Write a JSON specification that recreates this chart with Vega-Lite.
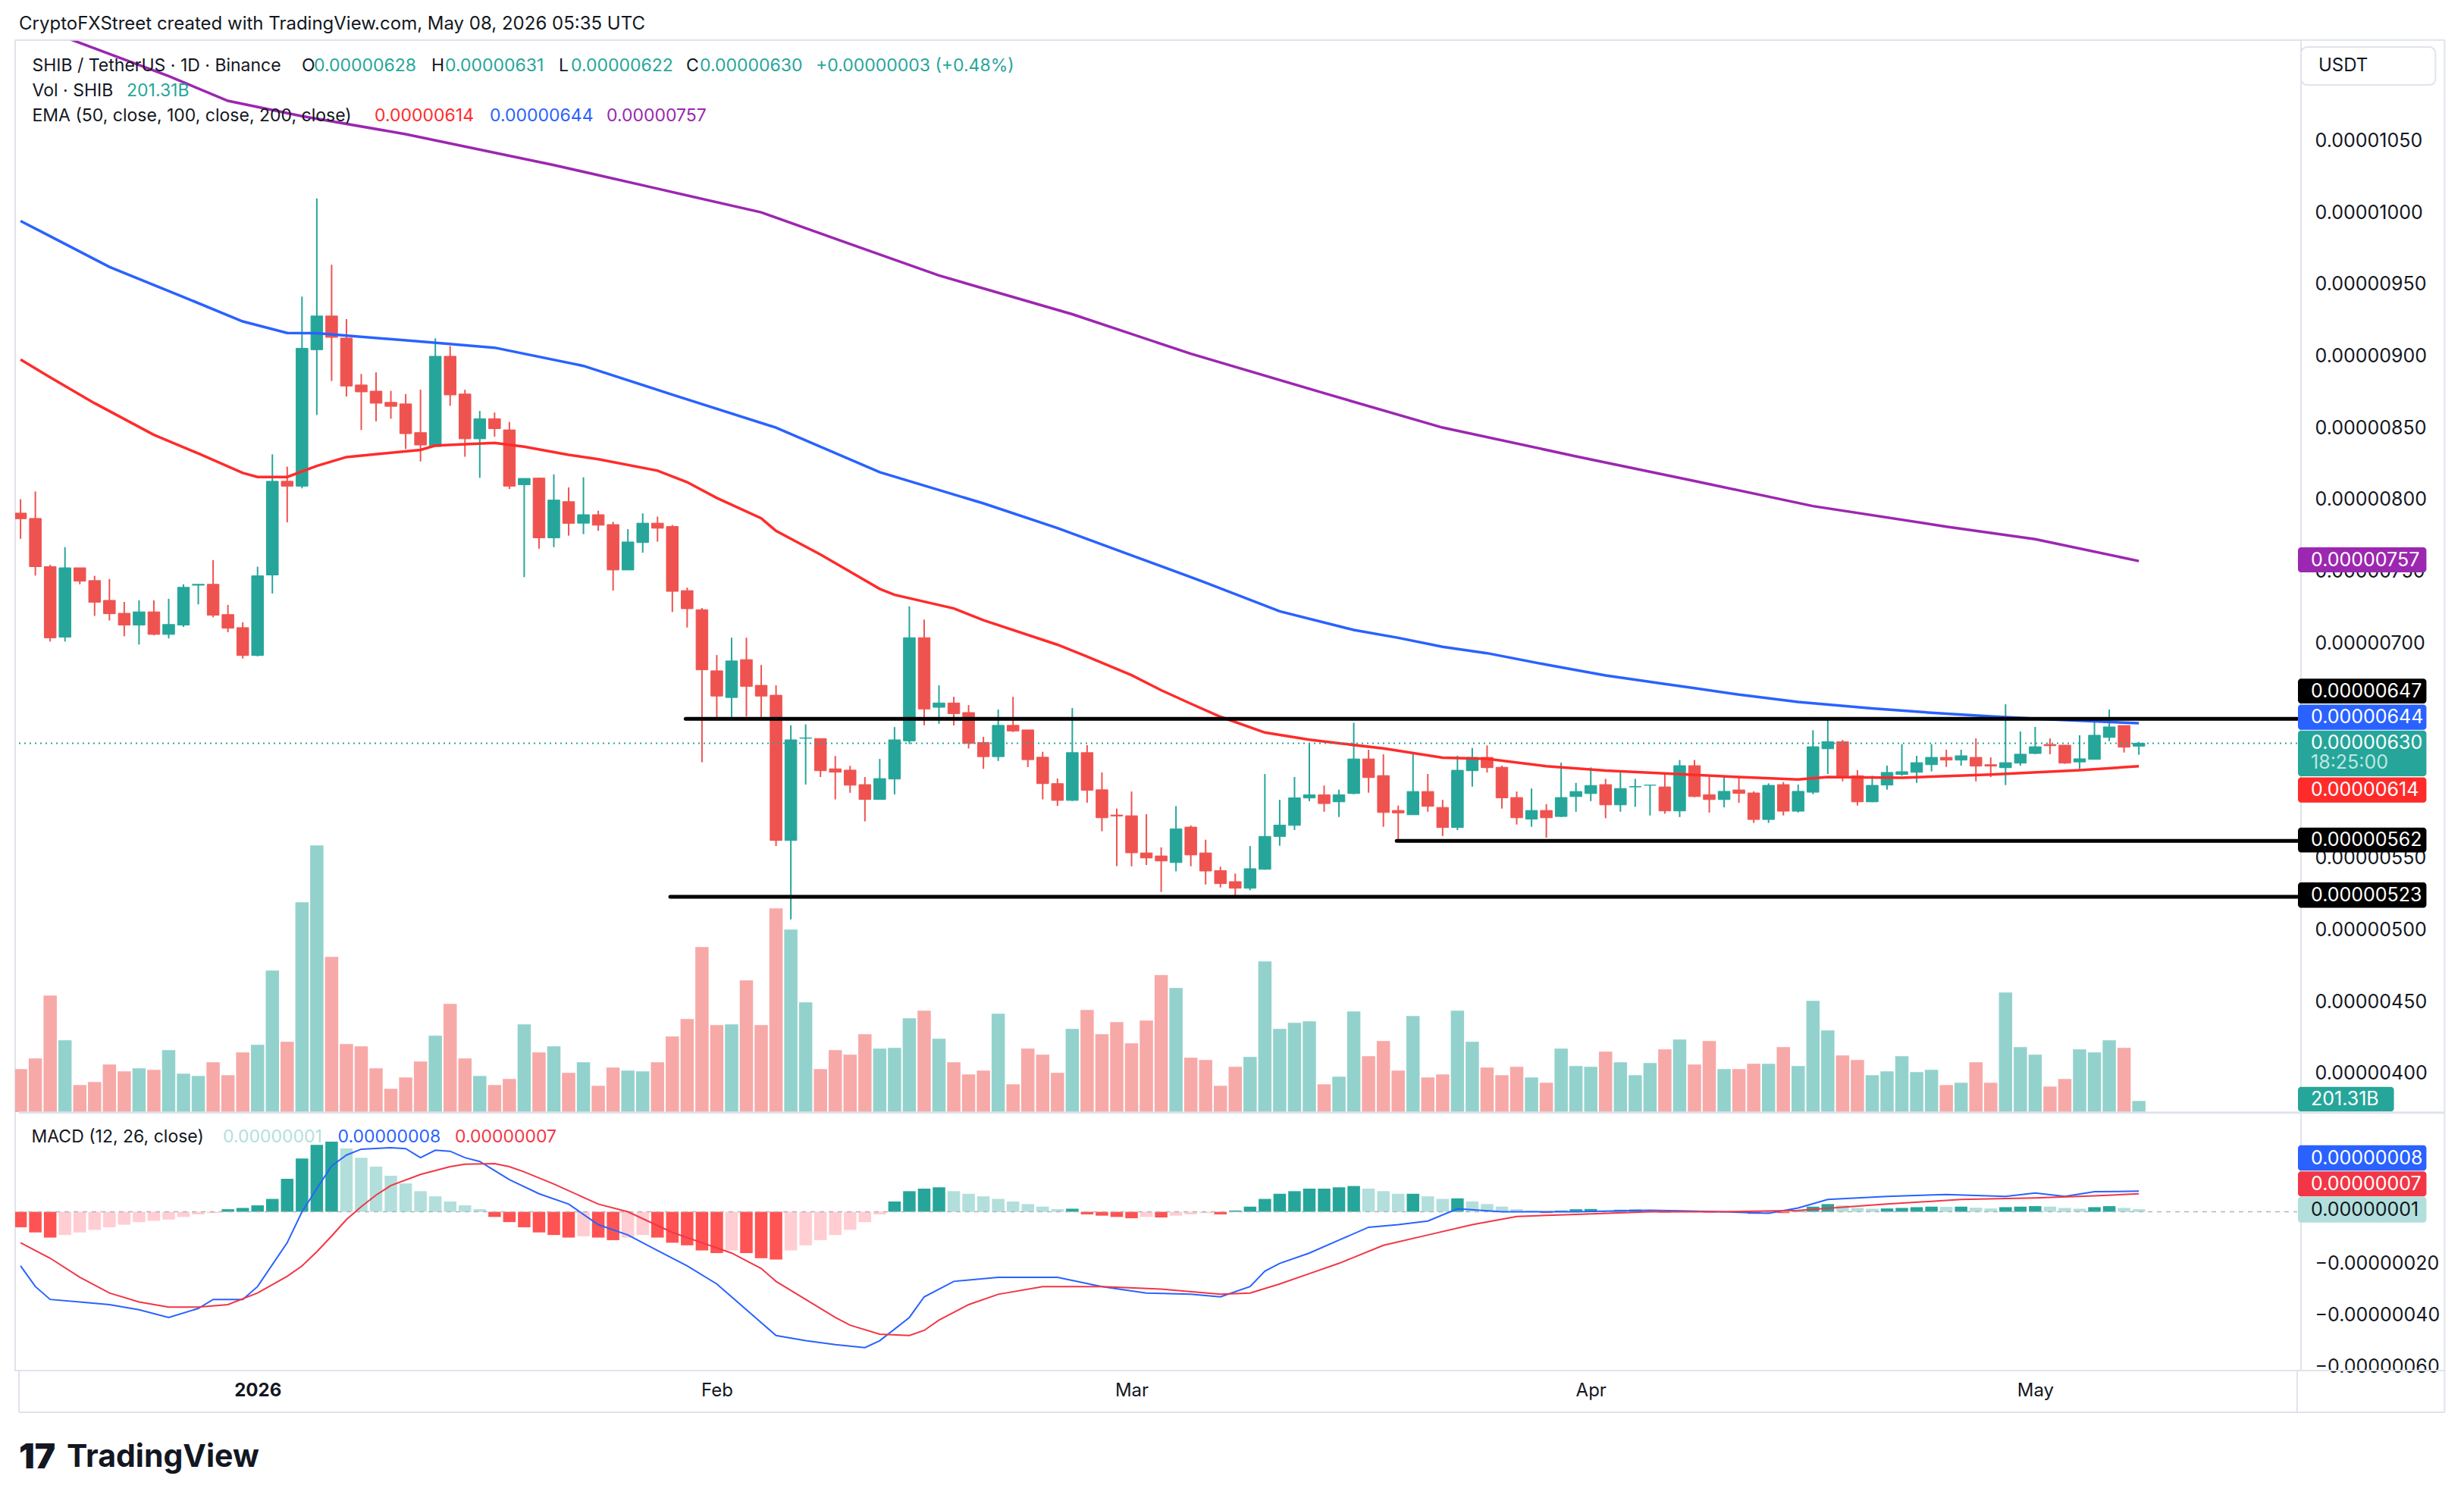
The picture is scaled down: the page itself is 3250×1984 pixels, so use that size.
{
"$schema":"https://vega.github.io/schema/vega-lite/v6.json",
"width":3015,"height":1755,
"autosize":{"type":"none"},
"padding":{"left":20,"top":53,"right":215,"bottom":176},
"background":"#ffffff",
"config":{"font":"Inter","view":{"stroke":"#e0e3eb","strokeWidth":2}},
"datasets":{
"one":[{"k":1}],
"ohlc":[
{"t":"2025-12-16","o":790.4e-8,"h":800.1e-8,"l":772.5e-8,"c":786.5e-8,"v":777.6,"m":-6e-8},
{"t":"2025-12-17","o":786.7e-8,"h":805.5e-8,"l":746.9e-8,"c":753.1e-8,"v":969.7,"m":-8e-8},
{"t":"2025-12-18","o":753.1e-8,"h":754.4e-8,"l":700.9e-8,"c":703.5e-8,"v":2108.6,"m":-10e-8},
{"t":"2025-12-19","o":704e-8,"h":766.7e-8,"l":700.9e-8,"c":752.3e-8,"v":1299,"m":-9e-8},
{"t":"2025-12-20","o":752.3e-8,"h":752.3e-8,"l":740.8e-8,"c":743e-8,"v":489.4,"m":-8e-8},
{"t":"2025-12-21","o":743.4e-8,"h":746.7e-8,"l":718.8e-8,"c":728.3e-8,"v":544.3,"m":-7e-8},
{"t":"2025-12-22","o":729.6e-8,"h":744.5e-8,"l":715.6e-8,"c":720.3e-8,"v":859.9,"m":-6e-8},
{"t":"2025-12-23","o":720.6e-8,"h":728.5e-8,"l":704.6e-8,"c":712.4e-8,"v":736.4,"m":-5e-8},
{"t":"2025-12-24","o":712.4e-8,"h":729.6e-8,"l":698.8e-8,"c":721.6e-8,"v":791.3,"m":-4e-8},
{"t":"2025-12-25","o":721.6e-8,"h":729.6e-8,"l":705.3e-8,"c":705.9e-8,"v":763.9,"m":-3.5e-8},
{"t":"2025-12-26","o":705.9e-8,"h":730.7e-8,"l":703.1e-8,"c":712.8e-8,"v":1120.6,"m":-3e-8},
{"t":"2025-12-27","o":712.4e-8,"h":740.8e-8,"l":711.1e-8,"c":738.7e-8,"v":695.2,"m":-2e-8},
{"t":"2025-12-28","o":740.2e-8,"h":740.8e-8,"l":726.8e-8,"c":740.8e-8,"v":654.1,"m":-1e-8},
{"t":"2025-12-29","o":740.8e-8,"h":757.7e-8,"l":717.8e-8,"c":719.3e-8,"v":901.1,"m":-0.5e-8},
{"t":"2025-12-30","o":719.7e-8,"h":726.4e-8,"l":707.4e-8,"c":710.2e-8,"v":667.8,"m":1e-8},
{"t":"2025-12-31","o":710.6e-8,"h":714.3e-8,"l":689.1e-8,"c":691.2e-8,"v":1079.5,"m":1.5e-8},
{"t":"2026-01-01","o":691.2e-8,"h":753.1e-8,"l":690.6e-8,"c":746.7e-8,"v":1216.7,"m":2.5e-8},
{"t":"2026-01-02","o":747.3e-8,"h":831.4e-8,"l":734.4e-8,"c":812.6e-8,"v":2561.4,"m":5e-8},
{"t":"2026-01-03","o":812.6e-8,"h":822.8e-8,"l":784e-8,"c":809.2e-8,"v":1271.6,"m":12.8e-8},
{"t":"2026-01-04","o":809.2e-8,"h":941.3e-8,"l":807.7e-8,"c":905.3e-8,"v":3796.4,"m":20.7e-8},
{"t":"2026-01-05","o":904.3e-8,"h":1009.7e-8,"l":858.8e-8,"c":927.8e-8,"v":4825.6,"m":26e-8},
{"t":"2026-01-06","o":927.8e-8,"h":963.5e-8,"l":882.5e-8,"c":912.9e-8,"v":2808.4,"m":27.2e-8},
{"t":"2026-01-07","o":912.4e-8,"h":925.6e-8,"l":871.7e-8,"c":879e-8,"v":1230.4,"m":24.6e-8},
{"t":"2026-01-08","o":879.7e-8,"h":887.4e-8,"l":848.4e-8,"c":874.9e-8,"v":1189.2,"m":21e-8},
{"t":"2026-01-09","o":875.4e-8,"h":888.5e-8,"l":854.4e-8,"c":867e-8,"v":791.3,"m":17.5e-8},
{"t":"2026-01-10","o":867.6e-8,"h":875.6e-8,"l":856.2e-8,"c":864.8e-8,"v":420.8,"m":14e-8},
{"t":"2026-01-11","o":866.5e-8,"h":873.4e-8,"l":835.1e-8,"c":845.8e-8,"v":626.6,"m":11e-8},
{"t":"2026-01-12","o":846.5e-8,"h":876.4e-8,"l":826.4e-8,"c":837.9e-8,"v":914.8,"m":8e-8},
{"t":"2026-01-13","o":836.8e-8,"h":912.2e-8,"l":836.8e-8,"c":899.7e-8,"v":1381.3,"m":6e-8},
{"t":"2026-01-14","o":899.7e-8,"h":906.8e-8,"l":865.2e-8,"c":872.8e-8,"v":1957.7,"m":4e-8},
{"t":"2026-01-15","o":873.4e-8,"h":876.4e-8,"l":829.7e-8,"c":842.2e-8,"v":969.7,"m":2.5e-8},
{"t":"2026-01-16","o":842.2e-8,"h":861.6e-8,"l":815e-8,"c":856.2e-8,"v":654.1,"m":1e-8},
{"t":"2026-01-17","o":856.2e-8,"h":860.5e-8,"l":843.7e-8,"c":849.3e-8,"v":489.4,"m":-2e-8},
{"t":"2026-01-18","o":848.4e-8,"h":854e-8,"l":807.2e-8,"c":809.2e-8,"v":599.2,"m":-4e-8},
{"t":"2026-01-19","o":810.2e-8,"h":814.6e-8,"l":745.8e-8,"c":814.6e-8,"v":1587.2,"m":-6e-8},
{"t":"2026-01-20","o":814.8e-8,"h":815.2e-8,"l":765.6e-8,"c":773.2e-8,"v":1079.5,"m":-8e-8},
{"t":"2026-01-21","o":773.2e-8,"h":817.4e-8,"l":766.7e-8,"c":799.5e-8,"v":1189.2,"m":-9e-8},
{"t":"2026-01-22","o":798.4e-8,"h":808.3e-8,"l":774.7e-8,"c":783.3e-8,"v":709,"m":-10e-8},
{"t":"2026-01-23","o":783.4e-8,"h":815.4e-8,"l":775.8e-8,"c":789.3e-8,"v":901.1,"m":-9.5e-8},
{"t":"2026-01-24","o":789.3e-8,"h":792.1e-8,"l":778.1e-8,"c":782e-8,"v":475.7,"m":-10e-8},
{"t":"2026-01-25","o":782.4e-8,"h":784.3e-8,"l":736.4e-8,"c":750.8e-8,"v":805,"m":-11e-8},
{"t":"2026-01-26","o":750.8e-8,"h":779.2e-8,"l":750.8e-8,"c":770.3e-8,"v":750.1,"m":-10e-8},
{"t":"2026-01-27","o":769.9e-8,"h":790.2e-8,"l":762.8e-8,"c":783.4e-8,"v":736.4,"m":-9e-8},
{"t":"2026-01-28","o":783.4e-8,"h":788e-8,"l":770.5e-8,"c":779.9e-8,"v":901.1,"m":-10e-8},
{"t":"2026-01-29","o":781.1e-8,"h":782.2e-8,"l":721.5e-8,"c":735.9e-8,"v":1367.6,"m":-12e-8},
{"t":"2026-01-30","o":736.4e-8,"h":738.5e-8,"l":710.7e-8,"c":723.8e-8,"v":1683.2,"m":-13e-8},
{"t":"2026-01-31","o":723.1e-8,"h":724.3e-8,"l":616.8e-8,"c":681.2e-8,"v":2986.8,"m":-15e-8},
{"t":"2026-02-01","o":680.5e-8,"h":691.5e-8,"l":648.2e-8,"c":662.9e-8,"v":1573.5,"m":-16e-8},
{"t":"2026-02-02","o":661.9e-8,"h":703.6e-8,"l":646.8e-8,"c":687.4e-8,"v":1587.2,"m":-15e-8},
{"t":"2026-02-03","o":688.3e-8,"h":703.6e-8,"l":648.7e-8,"c":669.7e-8,"v":2383.1,"m":-16e-8},
{"t":"2026-02-04","o":670.4e-8,"h":684.6e-8,"l":648.2e-8,"c":662.9e-8,"v":1573.5,"m":-18e-8},
{"t":"2026-02-05","o":663.5e-8,"h":670.4e-8,"l":558.4e-8,"c":562.3e-8,"v":3686.6,"m":-18.5e-8},
{"t":"2026-02-06","o":562.3e-8,"h":642.5e-8,"l":507.3e-8,"c":632.4e-8,"v":3302.4,"m":-15e-8},
{"t":"2026-02-07","o":633.5e-8,"h":643.2e-8,"l":601.3e-8,"c":633.8e-8,"v":1985.1,"m":-13e-8},
{"t":"2026-02-08","o":633.3e-8,"h":633.3e-8,"l":606.5e-8,"c":610.9e-8,"v":777.6,"m":-11e-8},
{"t":"2026-02-09","o":612.2e-8,"h":621.2e-8,"l":590.9e-8,"c":609.9e-8,"v":1120.6,"m":-9e-8},
{"t":"2026-02-10","o":611.3e-8,"h":614.3e-8,"l":595.5e-8,"c":600.8e-8,"v":1038.3,"m":-7e-8},
{"t":"2026-02-11","o":601.2e-8,"h":606.5e-8,"l":575.6e-8,"c":590.9e-8,"v":1408.8,"m":-4e-8},
{"t":"2026-02-12","o":590.9e-8,"h":619.1e-8,"l":590.9e-8,"c":605.4e-8,"v":1148.1,"m":-1e-8},
{"t":"2026-02-13","o":605.1e-8,"h":641.3e-8,"l":594.4e-8,"c":632.4e-8,"v":1161.8,"m":4e-8},
{"t":"2026-02-14","o":631.7e-8,"h":725.4e-8,"l":629.4e-8,"c":703.6e-8,"v":1697,"m":8e-8},
{"t":"2026-02-15","o":703.6e-8,"h":716.2e-8,"l":642.5e-8,"c":653.9e-8,"v":1834.2,"m":9e-8},
{"t":"2026-02-16","o":655.1e-8,"h":670.4e-8,"l":643.6e-8,"c":658.1e-8,"v":1326.5,"m":9.5e-8},
{"t":"2026-02-17","o":658.1e-8,"h":662.4e-8,"l":642.5e-8,"c":650.7e-8,"v":901.1,"m":8e-8},
{"t":"2026-02-18","o":651.4e-8,"h":656.7e-8,"l":626.4e-8,"c":629.9e-8,"v":681.5,"m":7e-8},
{"t":"2026-02-19","o":630.6e-8,"h":634.5e-8,"l":612.2e-8,"c":620.7e-8,"v":750.1,"m":6e-8},
{"t":"2026-02-20","o":620.7e-8,"h":653.5e-8,"l":617.7e-8,"c":642.5e-8,"v":1779.3,"m":5e-8},
{"t":"2026-02-21","o":642.5e-8,"h":662.4e-8,"l":637.9e-8,"c":638.6e-8,"v":503.1,"m":4e-8},
{"t":"2026-02-22","o":639.3e-8,"h":639.3e-8,"l":613.4e-8,"c":618.6e-8,"v":1148.1,"m":3e-8},
{"t":"2026-02-23","o":620.3e-8,"h":624.1e-8,"l":590.9e-8,"c":601.9e-8,"v":1038.3,"m":2e-8},
{"t":"2026-02-24","o":601.9e-8,"h":605.4e-8,"l":586.3e-8,"c":590.2e-8,"v":709,"m":1e-8},
{"t":"2026-02-25","o":590.2e-8,"h":654.6e-8,"l":589.8e-8,"c":623.5e-8,"v":1504.8,"m":1.2e-8},
{"t":"2026-02-26","o":623.5e-8,"h":628.7e-8,"l":588.6e-8,"c":597.3e-8,"v":1847.9,"m":-1e-8},
{"t":"2026-02-27","o":597.6e-8,"h":609.7e-8,"l":568.7e-8,"c":578.1e-8,"v":1408.8,"m":-1.5e-8},
{"t":"2026-02-28","o":580e-8,"h":584.5e-8,"l":544.4e-8,"c":579.3e-8,"v":1628.3,"m":-2e-8},
{"t":"2026-03-01","o":579.5e-8,"h":596.4e-8,"l":544.3e-8,"c":553.7e-8,"v":1244.1,"m":-2.5e-8},
{"t":"2026-03-02","o":553.6e-8,"h":580.6e-8,"l":545.2e-8,"c":550.1e-8,"v":1655.8,"m":-2e-8},
{"t":"2026-03-03","o":551.5e-8,"h":557.5e-8,"l":526.4e-8,"c":548e-8,"v":2479.1,"m":-2.2e-8},
{"t":"2026-03-04","o":546.9e-8,"h":586.2e-8,"l":540.8e-8,"c":570.4e-8,"v":2245.8,"m":-1.5e-8},
{"t":"2026-03-05","o":571.6e-8,"h":572.7e-8,"l":544.3e-8,"c":552.2e-8,"v":983.4,"m":-1e-8},
{"t":"2026-03-06","o":553.6e-8,"h":562.8e-8,"l":531.6e-8,"c":541e-8,"v":942.2,"m":-0.5e-8},
{"t":"2026-03-07","o":541.3e-8,"h":544e-8,"l":529.5e-8,"c":532.2e-8,"v":475.7,"m":-1e-8},
{"t":"2026-03-08","o":533.6e-8,"h":539.2e-8,"l":523.7e-8,"c":529e-8,"v":818.7,"m":0.5e-8},
{"t":"2026-03-09","o":529e-8,"h":558.4e-8,"l":527.6e-8,"c":542.6e-8,"v":997.1,"m":2e-8},
{"t":"2026-03-10","o":542.2e-8,"h":608.6e-8,"l":541.9e-8,"c":565.1e-8,"v":2726.1,"m":5e-8},
{"t":"2026-03-11","o":565.1e-8,"h":590.6e-8,"l":558.6e-8,"c":573e-8,"v":1504.8,"m":7e-8},
{"t":"2026-03-12","o":572.8e-8,"h":606.5e-8,"l":569.5e-8,"c":592e-8,"v":1614.6,"m":8e-8},
{"t":"2026-03-13","o":591.9e-8,"h":630.2e-8,"l":589.7e-8,"c":594.1e-8,"v":1642.1,"m":9e-8},
{"t":"2026-03-14","o":594.1e-8,"h":600.6e-8,"l":582.3e-8,"c":588e-8,"v":503.1,"m":9e-8},
{"t":"2026-03-15","o":589.2e-8,"h":597.7e-8,"l":578.6e-8,"c":594.1e-8,"v":640.4,"m":9.5e-8},
{"t":"2026-03-16","o":595e-8,"h":644.3e-8,"l":594.5e-8,"c":619.1e-8,"v":1820.5,"m":10e-8},
{"t":"2026-03-17","o":619.1e-8,"h":625.5e-8,"l":595.6e-8,"c":606.1e-8,"v":1010.9,"m":9e-8},
{"t":"2026-03-18","o":607.5e-8,"h":622.3e-8,"l":571.8e-8,"c":581.8e-8,"v":1285.3,"m":8e-8},
{"t":"2026-03-19","o":583.2e-8,"h":586.6e-8,"l":563.3e-8,"c":581.5e-8,"v":750.1,"m":7e-8},
{"t":"2026-03-20","o":580.2e-8,"h":622.7e-8,"l":580.2e-8,"c":596.4e-8,"v":1738.1,"m":7e-8},
{"t":"2026-03-21","o":596.4e-8,"h":608.6e-8,"l":582.3e-8,"c":586.1e-8,"v":626.6,"m":6e-8},
{"t":"2026-03-22","o":585.3e-8,"h":590.6e-8,"l":565.4e-8,"c":571.3e-8,"v":681.5,"m":5e-8},
{"t":"2026-03-23","o":571.3e-8,"h":621.4e-8,"l":569.5e-8,"c":611.2e-8,"v":1834.2,"m":5.2e-8},
{"t":"2026-03-24","o":610.9e-8,"h":626.7e-8,"l":599.8e-8,"c":620.2e-8,"v":1271.6,"m":4e-8},
{"t":"2026-03-25","o":620.2e-8,"h":628.5e-8,"l":609.6e-8,"c":613e-8,"v":805,"m":3e-8},
{"t":"2026-03-26","o":613.3e-8,"h":614.4e-8,"l":584.5e-8,"c":592e-8,"v":667.8,"m":2e-8},
{"t":"2026-03-27","o":592.2e-8,"h":596.4e-8,"l":573.4e-8,"c":578.1e-8,"v":818.7,"m":1e-8},
{"t":"2026-03-28","o":577.2e-8,"h":598.5e-8,"l":571.8e-8,"c":583.2e-8,"v":626.6,"m":0.5e-8},
{"t":"2026-03-29","o":583.2e-8,"h":587.6e-8,"l":564.2e-8,"c":578.1e-8,"v":530.6,"m":-0.5e-8},
{"t":"2026-03-30","o":579e-8,"h":616.5e-8,"l":578.6e-8,"c":592.2e-8,"v":1148.1,"m":0.5e-8},
{"t":"2026-03-31","o":592.9e-8,"h":602.4e-8,"l":582.3e-8,"c":596.4e-8,"v":832.5,"m":1e-8},
{"t":"2026-04-01","o":595e-8,"h":613.2e-8,"l":589.7e-8,"c":600.6e-8,"v":818.7,"m":1.1e-8},
{"t":"2026-04-02","o":601.2e-8,"h":605.2e-8,"l":577.8e-8,"c":587.1e-8,"v":1093.2,"m":0.5e-8},
{"t":"2026-04-03","o":587.1e-8,"h":609.6e-8,"l":582.3e-8,"c":598.5e-8,"v":901.1,"m":0.8e-8},
{"t":"2026-04-04","o":599.6e-8,"h":605.2e-8,"l":585.7e-8,"c":599.9e-8,"v":667.8,"m":0.9e-8},
{"t":"2026-04-05","o":600.8e-8,"h":600.9e-8,"l":579.7e-8,"c":600.9e-8,"v":887.4,"m":0.6e-8},
{"t":"2026-04-06","o":599.6e-8,"h":609.6e-8,"l":580.9e-8,"c":582.9e-8,"v":1134.4,"m":-0.3e-8},
{"t":"2026-04-07","o":582.9e-8,"h":618.4e-8,"l":578.6e-8,"c":614.4e-8,"v":1312.7,"m":0.5e-8},
{"t":"2026-04-08","o":614.4e-8,"h":618.4e-8,"l":592.4e-8,"c":592.9e-8,"v":859.9,"m":0.2e-8},
{"t":"2026-04-09","o":594.2e-8,"h":606.5e-8,"l":581.8e-8,"c":590.8e-8,"v":1285.3,"m":-0.3e-8},
{"t":"2026-04-10","o":590.8e-8,"h":606.5e-8,"l":585.4e-8,"c":596.5e-8,"v":777.6,"m":-0.1e-8},
{"t":"2026-04-11","o":597.5e-8,"h":606.1e-8,"l":588.5e-8,"c":595.1e-8,"v":777.6,"m":-0.3e-8},
{"t":"2026-04-12","o":595.4e-8,"h":596.5e-8,"l":574.5e-8,"c":576.9e-8,"v":873.6,"m":-0.8e-8},
{"t":"2026-04-13","o":576.9e-8,"h":602.1e-8,"l":574.5e-8,"c":600.7e-8,"v":873.6,"m":-0.3e-8},
{"t":"2026-04-14","o":601.2e-8,"h":603e-8,"l":579.7e-8,"c":582.7e-8,"v":1175.5,"m":-0.5e-8},
{"t":"2026-04-15","o":582.7e-8,"h":601.2e-8,"l":581.8e-8,"c":596.5e-8,"v":832.5,"m":0.3e-8},
{"t":"2026-04-16","o":595.9e-8,"h":639.1e-8,"l":594.5e-8,"c":627.6e-8,"v":2012.6,"m":2e-8},
{"t":"2026-04-17","o":626.2e-8,"h":648.2e-8,"l":608.6e-8,"c":631.1e-8,"v":1477.4,"m":3e-8},
{"t":"2026-04-18","o":631.1e-8,"h":632.4e-8,"l":603.5e-8,"c":606.1e-8,"v":1024.6,"m":2.5e-8},
{"t":"2026-04-19","o":607.4e-8,"h":611.3e-8,"l":586.6e-8,"c":589.2e-8,"v":942.2,"m":1.5e-8},
{"t":"2026-04-20","o":589.2e-8,"h":607.4e-8,"l":588.9e-8,"c":600.7e-8,"v":667.8,"m":1.2e-8},
{"t":"2026-04-21","o":600.9e-8,"h":614.4e-8,"l":597.7e-8,"c":609.7e-8,"v":736.4,"m":1.3e-8},
{"t":"2026-04-22","o":608.3e-8,"h":629.4e-8,"l":607.4e-8,"c":610.2e-8,"v":1010.9,"m":1.5e-8},
{"t":"2026-04-23","o":609.8e-8,"h":621.3e-8,"l":602.4e-8,"c":616.5e-8,"v":722.7,"m":1.8e-8},
{"t":"2026-04-24","o":615.1e-8,"h":629.4e-8,"l":610.4e-8,"c":620.2e-8,"v":763.9,"m":2e-8},
{"t":"2026-04-25","o":620.2e-8,"h":625.5e-8,"l":613.5e-8,"c":618.3e-8,"v":489.4,"m":1.9e-8},
{"t":"2026-04-26","o":618.3e-8,"h":625.5e-8,"l":614.4e-8,"c":621.3e-8,"v":530.6,"m":2e-8},
{"t":"2026-04-27","o":620.2e-8,"h":633.4e-8,"l":603.5e-8,"c":614.1e-8,"v":901.1,"m":1.6e-8},
{"t":"2026-04-28","o":615.1e-8,"h":620.2e-8,"l":606.5e-8,"c":614.1e-8,"v":530.6,"m":1.3e-8},
{"t":"2026-04-29","o":613e-8,"h":657.2e-8,"l":600.9e-8,"c":616.5e-8,"v":2163.5,"m":1.8e-8},
{"t":"2026-04-30","o":616.2e-8,"h":638.2e-8,"l":614.4e-8,"c":622.4e-8,"v":1175.5,"m":2e-8},
{"t":"2026-05-01","o":622.9e-8,"h":641.4e-8,"l":622.4e-8,"c":627.6e-8,"v":1038.3,"m":2.2e-8},
{"t":"2026-05-02","o":629.2e-8,"h":633.4e-8,"l":622.4e-8,"c":628.3e-8,"v":462,"m":2e-8},
{"t":"2026-05-03","o":628.7e-8,"h":628.7e-8,"l":615.7e-8,"c":616.2e-8,"v":599.2,"m":1.5e-8},
{"t":"2026-05-04","o":617e-8,"h":635.6e-8,"l":612.1e-8,"c":619.2e-8,"v":1134.4,"m":1.2e-8},
{"t":"2026-05-05","o":618.8e-8,"h":644.7e-8,"l":618.8e-8,"c":635.6e-8,"v":1079.5,"m":1.8e-8},
{"t":"2026-05-06","o":634.1e-8,"h":653.5e-8,"l":631.5e-8,"c":641.4e-8,"v":1299,"m":2.2e-8},
{"t":"2026-05-07","o":642.4e-8,"h":642.4e-8,"l":623.6e-8,"c":627.3e-8,"v":1161.8,"m":1.5e-8},
{"t":"2026-05-08","o":628e-8,"h":631e-8,"l":622e-8,"c":630e-8,"v":201.31,"m":1e-8}
],
"ema50":[{"t":"2025-12-16","e":897.5e-8},{"t":"2025-12-18","e":885e-8},{"t":"2025-12-21","e":867e-8},{"t":"2025-12-25","e":845e-8},{"t":"2025-12-28","e":832e-8},{"t":"2025-12-31","e":818.4e-8},{"t":"2026-01-01","e":815.6e-8},{"t":"2026-01-03","e":815.6e-8},{"t":"2026-01-05","e":823.3e-8},{"t":"2026-01-07","e":829.5e-8},{"t":"2026-01-12","e":834.5e-8},{"t":"2026-01-13","e":837.5e-8},{"t":"2026-01-17","e":839.3e-8},{"t":"2026-01-19","e":836.7e-8},{"t":"2026-01-22","e":831e-8},{"t":"2026-01-24","e":828e-8},{"t":"2026-01-28","e":820e-8},{"t":"2026-01-30","e":812e-8},{"t":"2026-02-01","e":801e-8},{"t":"2026-02-04","e":786.8e-8},{"t":"2026-02-05","e":778e-8},{"t":"2026-02-08","e":761.6e-8},{"t":"2026-02-12","e":737.6e-8},{"t":"2026-02-13","e":733.5e-8},{"t":"2026-02-17","e":724e-8},{"t":"2026-02-19","e":715.8e-8},{"t":"2026-02-24","e":698.7e-8},{"t":"2026-02-26","e":690.5e-8},{"t":"2026-03-01","e":677.5e-8},{"t":"2026-03-03","e":667e-8},{"t":"2026-03-05","e":657.6e-8},{"t":"2026-03-07","e":648.5e-8},{"t":"2026-03-10","e":637.5e-8},{"t":"2026-03-13","e":632.5e-8},{"t":"2026-03-15","e":630e-8},{"t":"2026-03-18","e":626.5e-8},{"t":"2026-03-22","e":620e-8},{"t":"2026-03-25","e":619.2e-8},{"t":"2026-03-29","e":614e-8},{"t":"2026-04-02","e":611e-8},{"t":"2026-04-06","e":609e-8},{"t":"2026-04-11","e":606.5e-8},{"t":"2026-04-15","e":604.8e-8},{"t":"2026-04-17","e":606.5e-8},{"t":"2026-04-22","e":606e-8},{"t":"2026-04-28","e":608.2e-8},{"t":"2026-05-04","e":611.3e-8},{"t":"2026-05-08","e":614e-8}],
"ema100":[{"t":"2025-12-16","e":994e-8},{"t":"2025-12-18","e":983.4e-8},{"t":"2025-12-22","e":962e-8},{"t":"2025-12-27","e":941e-8},{"t":"2025-12-31","e":924e-8},{"t":"2026-01-03","e":916e-8},{"t":"2026-01-05","e":915.8e-8},{"t":"2026-01-12","e":910e-8},{"t":"2026-01-17","e":905.7e-8},{"t":"2026-01-23","e":893e-8},{"t":"2026-01-29","e":873e-8},{"t":"2026-02-05","e":850e-8},{"t":"2026-02-12","e":818.9e-8},{"t":"2026-02-19","e":797.2e-8},{"t":"2026-02-24","e":780e-8},{"t":"2026-03-01","e":761e-8},{"t":"2026-03-06","e":742e-8},{"t":"2026-03-11","e":722e-8},{"t":"2026-03-16","e":709e-8},{"t":"2026-03-19","e":703.5e-8},{"t":"2026-03-22","e":697.2e-8},{"t":"2026-03-25","e":692.8e-8},{"t":"2026-03-29","e":684.8e-8},{"t":"2026-04-02","e":677.3e-8},{"t":"2026-04-06","e":671.3e-8},{"t":"2026-04-08","e":668.5e-8},{"t":"2026-04-11","e":663.9e-8},{"t":"2026-04-15","e":658.8e-8},{"t":"2026-04-20","e":654.3e-8},{"t":"2026-04-24","e":651.3e-8},{"t":"2026-04-28","e":648.8e-8},{"t":"2026-05-02","e":646.6e-8},{"t":"2026-05-08","e":644e-8}],
"ema200":[{"t":"2025-12-19","e":1122e-8},{"t":"2025-12-26","e":1095e-8},{"t":"2025-12-30","e":1077.7e-8},{"t":"2026-01-04","e":1067e-8},{"t":"2026-01-11","e":1054.5e-8},{"t":"2026-01-21","e":1033e-8},{"t":"2026-01-28","e":1016.5e-8},{"t":"2026-02-04","e":1000e-8},{"t":"2026-02-10","e":978e-8},{"t":"2026-02-16","e":956e-8},{"t":"2026-02-25","e":929e-8},{"t":"2026-03-05","e":901.5e-8},{"t":"2026-03-14","e":874e-8},{"t":"2026-03-22","e":850e-8},{"t":"2026-03-31","e":830e-8},{"t":"2026-04-08","e":812.8e-8},{"t":"2026-04-16","e":795.3e-8},{"t":"2026-04-25","e":781e-8},{"t":"2026-05-01","e":772.3e-8},{"t":"2026-05-08","e":757e-8}],
"macd":[{"t":"2025-12-16","v":-21e-8},{"t":"2025-12-17","v":-29e-8},{"t":"2025-12-18","v":-34e-8},{"t":"2025-12-20","v":-35e-8},{"t":"2025-12-22","v":-36e-8},{"t":"2025-12-24","v":-38e-8},{"t":"2025-12-26","v":-41e-8},{"t":"2025-12-28","v":-37.5e-8},{"t":"2025-12-29","v":-34e-8},{"t":"2025-12-31","v":-34e-8},{"t":"2026-01-01","v":-29e-8},{"t":"2026-01-03","v":-12e-8},{"t":"2026-01-04","v":0},{"t":"2026-01-05","v":9e-8},{"t":"2026-01-06","v":17.8e-8},{"t":"2026-01-07","v":22e-8},{"t":"2026-01-08","v":24.3e-8},{"t":"2026-01-10","v":24.9e-8},{"t":"2026-01-11","v":24.5e-8},{"t":"2026-01-12","v":21e-8},{"t":"2026-01-13","v":23.9e-8},{"t":"2026-01-14","v":23.5e-8},{"t":"2026-01-15","v":21e-8},{"t":"2026-01-16","v":19.5e-8},{"t":"2026-01-17","v":16e-8},{"t":"2026-01-18","v":12.5e-8},{"t":"2026-01-20","v":7e-8},{"t":"2026-01-22","v":3e-8},{"t":"2026-01-24","v":-5e-8},{"t":"2026-01-26","v":-9e-8},{"t":"2026-01-28","v":-15e-8},{"t":"2026-01-30","v":-21e-8},{"t":"2026-02-01","v":-28e-8},{"t":"2026-02-02","v":-33e-8},{"t":"2026-02-04","v":-43e-8},{"t":"2026-02-05","v":-48e-8},{"t":"2026-02-07","v":-50e-8},{"t":"2026-02-09","v":-51.5e-8},{"t":"2026-02-11","v":-52.7e-8},{"t":"2026-02-12","v":-50e-8},{"t":"2026-02-14","v":-41e-8},{"t":"2026-02-15","v":-33e-8},{"t":"2026-02-17","v":-27e-8},{"t":"2026-02-20","v":-25.4e-8},{"t":"2026-02-24","v":-25.4e-8},{"t":"2026-02-27","v":-29e-8},{"t":"2026-03-02","v":-31.5e-8},{"t":"2026-03-05","v":-32e-8},{"t":"2026-03-07","v":-33e-8},{"t":"2026-03-09","v":-29e-8},{"t":"2026-03-10","v":-23e-8},{"t":"2026-03-11","v":-20e-8},{"t":"2026-03-13","v":-16e-8},{"t":"2026-03-15","v":-11e-8},{"t":"2026-03-17","v":-6e-8},{"t":"2026-03-19","v":-5e-8},{"t":"2026-03-21","v":-3.6e-8},{"t":"2026-03-23","v":1.2e-8},{"t":"2026-03-26","v":0},{"t":"2026-03-31","v":0},{"t":"2026-04-05","v":0.6e-8},{"t":"2026-04-10","v":0},{"t":"2026-04-13","v":-0.6e-8},{"t":"2026-04-15","v":1.5e-8},{"t":"2026-04-17","v":4.8e-8},{"t":"2026-04-21","v":6e-8},{"t":"2026-04-25","v":6.7e-8},{"t":"2026-04-29","v":6e-8},{"t":"2026-05-01","v":7.3e-8},{"t":"2026-05-03","v":6e-8},{"t":"2026-05-05","v":7.8e-8},{"t":"2026-05-08","v":8e-8}],
"sig":[{"t":"2025-12-16","v":-12e-8},{"t":"2025-12-18","v":-18e-8},{"t":"2025-12-20","v":-25.4e-8},{"t":"2025-12-22","v":-31.5e-8},{"t":"2025-12-24","v":-35e-8},{"t":"2025-12-26","v":-37e-8},{"t":"2025-12-28","v":-37e-8},{"t":"2025-12-30","v":-36e-8},{"t":"2026-01-01","v":-31.5e-8},{"t":"2026-01-03","v":-25e-8},{"t":"2026-01-04","v":-21e-8},{"t":"2026-01-05","v":-15.5e-8},{"t":"2026-01-06","v":-9.4e-8},{"t":"2026-01-07","v":-3e-8},{"t":"2026-01-08","v":2e-8},{"t":"2026-01-09","v":6.5e-8},{"t":"2026-01-10","v":10.2e-8},{"t":"2026-01-12","v":14.5e-8},{"t":"2026-01-14","v":17.5e-8},{"t":"2026-01-15","v":18.5e-8},{"t":"2026-01-17","v":18.7e-8},{"t":"2026-01-18","v":17.5e-8},{"t":"2026-01-19","v":15.5e-8},{"t":"2026-01-21","v":10.8e-8},{"t":"2026-01-24","v":3e-8},{"t":"2026-01-26","v":0},{"t":"2026-01-29","v":-8e-8},{"t":"2026-01-31","v":-12e-8},{"t":"2026-02-02","v":-16e-8},{"t":"2026-02-04","v":-22e-8},{"t":"2026-02-05","v":-27e-8},{"t":"2026-02-07","v":-34e-8},{"t":"2026-02-09","v":-41e-8},{"t":"2026-02-10","v":-44e-8},{"t":"2026-02-12","v":-47.5e-8},{"t":"2026-02-14","v":-48e-8},{"t":"2026-02-15","v":-46e-8},{"t":"2026-02-16","v":-42e-8},{"t":"2026-02-18","v":-36e-8},{"t":"2026-02-20","v":-32e-8},{"t":"2026-02-23","v":-29e-8},{"t":"2026-02-27","v":-29e-8},{"t":"2026-03-03","v":-30e-8},{"t":"2026-03-07","v":-32e-8},{"t":"2026-03-09","v":-31.5e-8},{"t":"2026-03-11","v":-28e-8},{"t":"2026-03-13","v":-24e-8},{"t":"2026-03-15","v":-20e-8},{"t":"2026-03-18","v":-13e-8},{"t":"2026-03-21","v":-9e-8},{"t":"2026-03-24","v":-5e-8},{"t":"2026-03-27","v":-1.8e-8},{"t":"2026-03-31","v":-1e-8},{"t":"2026-04-05","v":0},{"t":"2026-04-10","v":0},{"t":"2026-04-15","v":0.5e-8},{"t":"2026-04-21","v":3e-8},{"t":"2026-04-26","v":4.8e-8},{"t":"2026-05-01","v":5.4e-8},{"t":"2026-05-05","v":6.2e-8},{"t":"2026-05-08","v":7e-8}]
},
"resolve":{"scale":{"y":"independent"},"axis":{"y":"independent"}},
"layer":[
{"data":{"name":"ohlc"},"mark":{"type":"bar","width":17.5,"clip":true},
 "encoding":{"x":{"field":"t","type":"temporal","scale":{"type":"utc","domain":[1765833945000,1779121846000]},
 "axis":{"values":[1767225600000,1769904000000,1772323200000,1775001600000,1777593600000],
 "labelExpr":"utcFormat(datum.value, '%m') == '01' ? utcFormat(datum.value, '%Y') : utcFormat(datum.value, '%b')",
 "labelFontWeight":{"condition":{"test":"utcFormat(datum.value, '%m') == '01'","value":"bold"},"value":"normal"},
 "ticks":false,"domain":false,"grid":false,"labelPadding":26,"labelBaseline":"middle","labelFontSize":24,"labelColor":"#131722","labelFlush":false,"labelOverlap":false,"title":null}},
 "y":{"field":"v","type":"quantitative","scale":{"domain":[0,19400],"range":[1414,0]},"axis":null},"y2":{"datum":0},
 "color":{"condition":{"test":"datum.c >= datum.o","value":"#93d2cc"},"value":"#f7a9a7"}}},
{"layer":[
 {"data":{"name":"ohlc"},"mark":{"type":"rule","strokeWidth":2,"clip":true},
  "encoding":{"x":{"field":"t","type":"temporal"},"y":{"field":"l","type":"quantitative","scale":{"domain":[373e-8,1120e-8],"range":[1414,0],"zero":false,"nice":false},
   "axis":{"orient":"right","values":[4e-6,4.5e-6,5e-6,5.5e-6,7e-6,7.5e-6,8e-6,8.5e-6,9e-6,9.5e-6,1e-5,1.05e-5],"format":".8f","ticks":false,"grid":false,"domain":false,"labelPadding":18,"labelFontSize":25,"labelColor":"#131722","labelBaseline":"middle","labelOverlap":false,"labelFlush":false,"title":null}},
  "y2":{"field":"h"},"color":{"condition":{"test":"datum.c >= datum.o","value":"#26a69a"},"value":"#ef5350"}}},
 {"data":{"name":"ohlc"},"mark":{"type":"bar","width":15.5,"strokeWidth":1,"clip":true},
  "encoding":{"x":{"field":"t","type":"temporal"},"y":{"field":"o","type":"quantitative"},"y2":{"field":"c"},
  "color":{"condition":{"test":"datum.c >= datum.o","value":"#26a69a"},"value":"#ef5350"},
  "stroke":{"condition":{"test":"datum.c >= datum.o","value":"#26a69a"},"value":"#ef5350"}}},
 {"data":{"name":"ema200"},"mark":{"type":"line","color":"#9c27b0","strokeWidth":3.5,"clip":true},"encoding":{"x":{"field":"t","type":"temporal"},"y":{"field":"e","type":"quantitative"}}},
 {"data":{"name":"ema100"},"mark":{"type":"line","color":"#2962ff","strokeWidth":3.5,"clip":true},"encoding":{"x":{"field":"t","type":"temporal"},"y":{"field":"e","type":"quantitative"}}},
 {"data":{"name":"ema50"},"mark":{"type":"line","color":"#ff2b2b","strokeWidth":3.5,"clip":true},"encoding":{"x":{"field":"t","type":"temporal"},"y":{"field":"e","type":"quantitative"}}},
 {"data":{"name":"one"},"mark":{"type":"rule","color":"#000000","strokeWidth":5,"strokeCap":"round"},"encoding":{"x":{"datum":{"utc":true,"year":2026,"month":1,"date":29,"hours":21,"minutes":36},"type":"temporal"},"x2":{"datum":{"utc":true,"year":2026,"month":5,"date":18,"hours":16,"minutes":30,"seconds":43}},"y":{"datum":647e-8}}},
 {"data":{"name":"one"},"mark":{"type":"rule","color":"#000000","strokeWidth":5,"strokeCap":"round"},"encoding":{"x":{"datum":{"utc":true,"year":2026,"month":3,"date":18,"hours":21,"minutes":36},"type":"temporal"},"x2":{"datum":{"utc":true,"year":2026,"month":5,"date":18,"hours":16,"minutes":30,"seconds":43}},"y":{"datum":562e-8}}},
 {"data":{"name":"one"},"mark":{"type":"rule","color":"#000000","strokeWidth":5,"strokeCap":"round"},"encoding":{"x":{"datum":{"utc":true,"year":2026,"month":1,"date":28,"hours":20,"minutes":38},"type":"temporal"},"x2":{"datum":{"utc":true,"year":2026,"month":5,"date":18,"hours":16,"minutes":30,"seconds":43}},"y":{"datum":523e-8}}},
 {"data":{"name":"one"},"mark":{"type":"rule","color":"#26a69a","strokeWidth":2,"strokeDash":[2,5]},"encoding":{"x":{"datum":{"utc":true,"year":2025,"month":12,"date":15,"hours":21,"minutes":25,"seconds":45},"type":"temporal"},"x2":{"datum":{"utc":true,"year":2026,"month":5,"date":18,"hours":16,"minutes":30,"seconds":43}},"y":{"datum":630e-8}}},
 {"data":{"name":"one"},"mark":{"type":"rect","color":"#9c27b0","cornerRadius":4},"encoding":{"x":{"datum":{"utc":true,"year":2026,"month":5,"date":18,"hours":17,"minutes":44,"seconds":10},"type":"temporal"},"x2":{"datum":{"utc":true,"year":2026,"month":5,"date":27,"hours":9,"minutes":51,"seconds":25}},"y":{"datum":749.1e-8},"y2":{"datum":766.6e-8}}},
 {"data":{"name":"one"},"mark":{"type":"rect","color":"#000000","cornerRadius":4},"encoding":{"x":{"datum":{"utc":true,"year":2026,"month":5,"date":18,"hours":17,"minutes":44,"seconds":10},"type":"temporal"},"x2":{"datum":{"utc":true,"year":2026,"month":5,"date":27,"hours":9,"minutes":51,"seconds":25}},"y":{"datum":657.7e-8},"y2":{"datum":675.0e-8}}},
 {"data":{"name":"one"},"mark":{"type":"rect","color":"#2962ff","cornerRadius":4},"encoding":{"x":{"datum":{"utc":true,"year":2026,"month":5,"date":18,"hours":17,"minutes":44,"seconds":10},"type":"temporal"},"x2":{"datum":{"utc":true,"year":2026,"month":5,"date":27,"hours":9,"minutes":51,"seconds":25}},"y":{"datum":639.4e-8},"y2":{"datum":656.9e-8}}},
 {"data":{"name":"one"},"mark":{"type":"rect","color":"#26a69a","cornerRadius":4},"encoding":{"x":{"datum":{"utc":true,"year":2026,"month":5,"date":18,"hours":17,"minutes":44,"seconds":10},"type":"temporal"},"x2":{"datum":{"utc":true,"year":2026,"month":5,"date":27,"hours":9,"minutes":51,"seconds":25}},"y":{"datum":607.0e-8},"y2":{"datum":638.8e-8}}},
 {"data":{"name":"one"},"mark":{"type":"rect","color":"#ff2b2b","cornerRadius":4},"encoding":{"x":{"datum":{"utc":true,"year":2026,"month":5,"date":18,"hours":17,"minutes":44,"seconds":10},"type":"temporal"},"x2":{"datum":{"utc":true,"year":2026,"month":5,"date":27,"hours":9,"minutes":51,"seconds":25}},"y":{"datum":588.7e-8},"y2":{"datum":606.2e-8}}},
 {"data":{"name":"one"},"mark":{"type":"rect","color":"#000000","cornerRadius":4},"encoding":{"x":{"datum":{"utc":true,"year":2026,"month":5,"date":18,"hours":17,"minutes":44,"seconds":10},"type":"temporal"},"x2":{"datum":{"utc":true,"year":2026,"month":5,"date":27,"hours":9,"minutes":51,"seconds":25}},"y":{"datum":553.9e-8},"y2":{"datum":571.2e-8}}},
 {"data":{"name":"one"},"mark":{"type":"rect","color":"#000000","cornerRadius":4},"encoding":{"x":{"datum":{"utc":true,"year":2026,"month":5,"date":18,"hours":17,"minutes":44,"seconds":10},"type":"temporal"},"x2":{"datum":{"utc":true,"year":2026,"month":5,"date":27,"hours":9,"minutes":51,"seconds":25}},"y":{"datum":515.4e-8},"y2":{"datum":533.1e-8}}},
 {"data":{"name":"one"},"mark":{"type":"rect","color":"#26a69a","cornerRadius":4},"encoding":{"x":{"datum":{"utc":true,"year":2026,"month":5,"date":18,"hours":17,"minutes":44,"seconds":10},"type":"temporal"},"x2":{"datum":{"utc":true,"year":2026,"month":5,"date":25,"hours":5,"minutes":12,"seconds":55}},"y":{"datum":373.4e-8},"y2":{"datum":390.6e-8}}},
 {"data":{"name":"one"},"mark":{"type":"text","color":"#ffffff","fontSize":25,"align":"left","baseline":"middle","dx":17},"encoding":{"x":{"datum":{"utc":true,"year":2026,"month":5,"date":18,"hours":17,"minutes":44,"seconds":10},"type":"temporal"},"y":{"datum":757.8e-8},"text":{"value":"0.00000757"}}},
 {"data":{"name":"one"},"mark":{"type":"text","color":"#ffffff","fontSize":25,"align":"left","baseline":"middle","dx":17},"encoding":{"x":{"datum":{"utc":true,"year":2026,"month":5,"date":18,"hours":17,"minutes":44,"seconds":10},"type":"temporal"},"y":{"datum":666.4e-8},"text":{"value":"0.00000647"}}},
 {"data":{"name":"one"},"mark":{"type":"text","color":"#ffffff","fontSize":25,"align":"left","baseline":"middle","dx":17},"encoding":{"x":{"datum":{"utc":true,"year":2026,"month":5,"date":18,"hours":17,"minutes":44,"seconds":10},"type":"temporal"},"y":{"datum":648.2e-8},"text":{"value":"0.00000644"}}},
 {"data":{"name":"one"},"mark":{"type":"text","color":"#ffffff","fontSize":25,"align":"left","baseline":"middle","dx":17},"encoding":{"x":{"datum":{"utc":true,"year":2026,"month":5,"date":18,"hours":17,"minutes":44,"seconds":10},"type":"temporal"},"y":{"datum":630.5e-8},"text":{"value":"0.00000630"}}},
 {"data":{"name":"one"},"mark":{"type":"text","color":"#bfe6e1","fontSize":25,"align":"left","baseline":"middle","dx":17},"encoding":{"x":{"datum":{"utc":true,"year":2026,"month":5,"date":18,"hours":17,"minutes":44,"seconds":10},"type":"temporal"},"y":{"datum":616.5e-8},"text":{"value":"18:25:00"}}},
 {"data":{"name":"one"},"mark":{"type":"text","color":"#ffffff","fontSize":25,"align":"left","baseline":"middle","dx":17},"encoding":{"x":{"datum":{"utc":true,"year":2026,"month":5,"date":18,"hours":17,"minutes":44,"seconds":10},"type":"temporal"},"y":{"datum":597.5e-8},"text":{"value":"0.00000614"}}},
 {"data":{"name":"one"},"mark":{"type":"text","color":"#ffffff","fontSize":25,"align":"left","baseline":"middle","dx":17},"encoding":{"x":{"datum":{"utc":true,"year":2026,"month":5,"date":18,"hours":17,"minutes":44,"seconds":10},"type":"temporal"},"y":{"datum":562.7e-8},"text":{"value":"0.00000562"}}},
 {"data":{"name":"one"},"mark":{"type":"text","color":"#ffffff","fontSize":25,"align":"left","baseline":"middle","dx":17},"encoding":{"x":{"datum":{"utc":true,"year":2026,"month":5,"date":18,"hours":17,"minutes":44,"seconds":10},"type":"temporal"},"y":{"datum":524.2e-8},"text":{"value":"0.00000523"}}},
 {"data":{"name":"one"},"mark":{"type":"text","color":"#ffffff","fontSize":25,"align":"left","baseline":"middle","dx":17},"encoding":{"x":{"datum":{"utc":true,"year":2026,"month":5,"date":18,"hours":17,"minutes":44,"seconds":10},"type":"temporal"},"y":{"datum":381.9e-8},"text":{"value":"201.31B"}}},
 {"data":{"name":"one"},"mark":{"type":"rect","fill":"#ffffff","stroke":"#e0e3eb","strokeWidth":2,"cornerRadius":8},"encoding":{"x":{"datum":{"utc":true,"year":2026,"month":5,"date":18,"hours":22,"minutes":38,"seconds":2},"type":"temporal"},"x2":{"datum":{"utc":true,"year":2026,"month":5,"date":28,"hours":0,"minutes":32,"seconds":50}},"y":{"datum":1088.8e-8},"y2":{"datum":1115.2e-8}}},
 {"data":{"name":"one"},"mark":{"type":"text","color":"#131722","fontSize":24,"align":"left","baseline":"middle","dx":27},"encoding":{"x":{"datum":{"utc":true,"year":2026,"month":5,"date":18,"hours":17,"minutes":44,"seconds":10},"type":"temporal"},"y":{"datum":1102e-8},"text":{"value":"USDT"}}},
 {"data":{"name":"one"},"mark":{"type":"text","color":"#131722","fontSize":24,"align":"left","baseline":"middle","dx":0},"encoding":{"x":{"datum":{"utc":true,"year":2025,"month":12,"date":15,"hours":21,"minutes":25,"seconds":45},"type":"temporal"},"y":{"datum":1131.25e-8},"text":{"value":"CryptoFXStreet created with TradingView.com, May 08, 2026 05:35 UTC"}}},
 {"data":{"name":"one"},"mark":{"type":"text","color":"#131722","fontSize":23,"align":"left","baseline":"middle","dx":17.5},"encoding":{"x":{"datum":{"utc":true,"year":2025,"month":12,"date":15,"hours":21,"minutes":25,"seconds":45},"type":"temporal"},"y":{"datum":1102e-8},"text":{"value":"SHIB / TetherUS · 1D · Binance"}}},
 {"data":{"name":"one"},"mark":{"type":"text","color":"#131722","fontSize":23,"align":"left","baseline":"middle","dx":373},"encoding":{"x":{"datum":{"utc":true,"year":2025,"month":12,"date":15,"hours":21,"minutes":25,"seconds":45},"type":"temporal"},"y":{"datum":1102e-8},"text":{"value":"O"}}},
 {"data":{"name":"one"},"mark":{"type":"text","color":"#26a69a","fontSize":23,"align":"left","baseline":"middle","dx":389},"encoding":{"x":{"datum":{"utc":true,"year":2025,"month":12,"date":15,"hours":21,"minutes":25,"seconds":45},"type":"temporal"},"y":{"datum":1102e-8},"text":{"value":"0.00000628"}}},
 {"data":{"name":"one"},"mark":{"type":"text","color":"#131722","fontSize":23,"align":"left","baseline":"middle","dx":544},"encoding":{"x":{"datum":{"utc":true,"year":2025,"month":12,"date":15,"hours":21,"minutes":25,"seconds":45},"type":"temporal"},"y":{"datum":1102e-8},"text":{"value":"H"}}},
 {"data":{"name":"one"},"mark":{"type":"text","color":"#26a69a","fontSize":23,"align":"left","baseline":"middle","dx":562},"encoding":{"x":{"datum":{"utc":true,"year":2025,"month":12,"date":15,"hours":21,"minutes":25,"seconds":45},"type":"temporal"},"y":{"datum":1102e-8},"text":{"value":"0.00000631"}}},
 {"data":{"name":"one"},"mark":{"type":"text","color":"#131722","fontSize":23,"align":"left","baseline":"middle","dx":712},"encoding":{"x":{"datum":{"utc":true,"year":2025,"month":12,"date":15,"hours":21,"minutes":25,"seconds":45},"type":"temporal"},"y":{"datum":1102e-8},"text":{"value":"L"}}},
 {"data":{"name":"one"},"mark":{"type":"text","color":"#26a69a","fontSize":23,"align":"left","baseline":"middle","dx":728},"encoding":{"x":{"datum":{"utc":true,"year":2025,"month":12,"date":15,"hours":21,"minutes":25,"seconds":45},"type":"temporal"},"y":{"datum":1102e-8},"text":{"value":"0.00000622"}}},
 {"data":{"name":"one"},"mark":{"type":"text","color":"#131722","fontSize":23,"align":"left","baseline":"middle","dx":880},"encoding":{"x":{"datum":{"utc":true,"year":2025,"month":12,"date":15,"hours":21,"minutes":25,"seconds":45},"type":"temporal"},"y":{"datum":1102e-8},"text":{"value":"C"}}},
 {"data":{"name":"one"},"mark":{"type":"text","color":"#26a69a","fontSize":23,"align":"left","baseline":"middle","dx":898},"encoding":{"x":{"datum":{"utc":true,"year":2025,"month":12,"date":15,"hours":21,"minutes":25,"seconds":45},"type":"temporal"},"y":{"datum":1102e-8},"text":{"value":"0.00000630"}}},
 {"data":{"name":"one"},"mark":{"type":"text","color":"#26a69a","fontSize":23,"align":"left","baseline":"middle","dx":1051},"encoding":{"x":{"datum":{"utc":true,"year":2025,"month":12,"date":15,"hours":21,"minutes":25,"seconds":45},"type":"temporal"},"y":{"datum":1102e-8},"text":{"value":"+0.00000003 (+0.48%)"}}},
 {"data":{"name":"one"},"mark":{"type":"text","color":"#131722","fontSize":23,"align":"left","baseline":"middle","dx":17.5},"encoding":{"x":{"datum":{"utc":true,"year":2025,"month":12,"date":15,"hours":21,"minutes":25,"seconds":45},"type":"temporal"},"y":{"datum":1084.6e-8},"text":{"value":"Vol · SHIB"}}},
 {"data":{"name":"one"},"mark":{"type":"text","color":"#26a69a","fontSize":23,"align":"left","baseline":"middle","dx":142},"encoding":{"x":{"datum":{"utc":true,"year":2025,"month":12,"date":15,"hours":21,"minutes":25,"seconds":45},"type":"temporal"},"y":{"datum":1084.6e-8},"text":{"value":"201.31B"}}},
 {"data":{"name":"one"},"mark":{"type":"text","color":"#131722","fontSize":23,"align":"left","baseline":"middle","dx":17.5},"encoding":{"x":{"datum":{"utc":true,"year":2025,"month":12,"date":15,"hours":21,"minutes":25,"seconds":45},"type":"temporal"},"y":{"datum":1067.2e-8},"text":{"value":"EMA (50, close, 100, close, 200, close)"}}},
 {"data":{"name":"one"},"mark":{"type":"text","color":"#ff2b2b","fontSize":23,"align":"left","baseline":"middle","dx":469},"encoding":{"x":{"datum":{"utc":true,"year":2025,"month":12,"date":15,"hours":21,"minutes":25,"seconds":45},"type":"temporal"},"y":{"datum":1067.2e-8},"text":{"value":"0.00000614"}}},
 {"data":{"name":"one"},"mark":{"type":"text","color":"#2962ff","fontSize":23,"align":"left","baseline":"middle","dx":621},"encoding":{"x":{"datum":{"utc":true,"year":2025,"month":12,"date":15,"hours":21,"minutes":25,"seconds":45},"type":"temporal"},"y":{"datum":1067.2e-8},"text":{"value":"0.00000644"}}},
 {"data":{"name":"one"},"mark":{"type":"text","color":"#9c27b0","fontSize":23,"align":"left","baseline":"middle","dx":775},"encoding":{"x":{"datum":{"utc":true,"year":2025,"month":12,"date":15,"hours":21,"minutes":25,"seconds":45},"type":"temporal"},"y":{"datum":1067.2e-8},"text":{"value":"0.00000757"}}}
]},
{"layer":[
 {"data":{"name":"ohlc"},"transform":[{"window":[{"op":"lag","field":"m","as":"pm"}],"sort":[{"field":"t"}]}],
  "mark":{"type":"bar","width":16.5,"clip":true},
  "encoding":{"x":{"field":"t","type":"temporal"},"y":{"field":"m","type":"quantitative","scale":{"domain":[-61.6e-8,38.1e-8],"range":[1755,1416],"zero":false,"nice":false},
   "axis":{"orient":"right","values":[-2e-7,-4e-7,-6e-7],"format":".8f","ticks":false,"grid":false,"domain":false,"labelPadding":18,"labelFontSize":25,"labelColor":"#131722","labelBaseline":"middle","labelOverlap":false,"labelFlush":false,"title":null}},
  "y2":{"datum":0},
  "color":{"condition":[{"test":"datum.m >= 0 && (datum.pm == null || datum.m >= datum.pm)","value":"#26a69a"},{"test":"datum.m >= 0","value":"#b2dfdb"},{"test":"datum.pm == null || datum.m <= datum.pm","value":"#ff5252"}],"value":"#ffcdd2"}}},
 {"data":{"name":"one"},"mark":{"type":"rule","color":"#b2b5be","strokeWidth":1.5,"strokeDash":[6,6]},"encoding":{"x":{"datum":{"utc":true,"year":2025,"month":12,"date":15,"hours":21,"minutes":25,"seconds":45},"type":"temporal"},"x2":{"datum":{"utc":true,"year":2026,"month":5,"date":18,"hours":16,"minutes":30,"seconds":43}},"y":{"datum":0}}},
 {"data":{"name":"macd"},"mark":{"type":"line","color":"#2962ff","strokeWidth":2,"clip":true},"encoding":{"x":{"field":"t","type":"temporal"},"y":{"field":"v","type":"quantitative"}}},
 {"data":{"name":"sig"},"mark":{"type":"line","color":"#f23645","strokeWidth":2,"clip":true},"encoding":{"x":{"field":"t","type":"temporal"},"y":{"field":"v","type":"quantitative"}}},
 {"data":{"name":"one"},"mark":{"type":"rect","color":"#2962ff","cornerRadius":4},"encoding":{"x":{"datum":{"utc":true,"year":2026,"month":5,"date":18,"hours":17,"minutes":44,"seconds":10},"type":"temporal"},"x2":{"datum":{"utc":true,"year":2026,"month":5,"date":27,"hours":9,"minutes":51,"seconds":25}},"y":{"datum":16e-8},"y2":{"datum":25.8e-8}}},
 {"data":{"name":"one"},"mark":{"type":"rect","color":"#f23645","cornerRadius":4},"encoding":{"x":{"datum":{"utc":true,"year":2026,"month":5,"date":18,"hours":17,"minutes":44,"seconds":10},"type":"temporal"},"x2":{"datum":{"utc":true,"year":2026,"month":5,"date":27,"hours":9,"minutes":51,"seconds":25}},"y":{"datum":6e-8},"y2":{"datum":15.7e-8}}},
 {"data":{"name":"one"},"mark":{"type":"rect","color":"#b2dfdb","cornerRadius":4},"encoding":{"x":{"datum":{"utc":true,"year":2026,"month":5,"date":18,"hours":17,"minutes":44,"seconds":10},"type":"temporal"},"x2":{"datum":{"utc":true,"year":2026,"month":5,"date":27,"hours":9,"minutes":51,"seconds":25}},"y":{"datum":-4.2e-8},"y2":{"datum":5.8e-8}}},
 {"data":{"name":"one"},"mark":{"type":"text","color":"#ffffff","fontSize":25,"align":"left","baseline":"middle","dx":17},"encoding":{"x":{"datum":{"utc":true,"year":2026,"month":5,"date":18,"hours":17,"minutes":44,"seconds":10},"type":"temporal"},"y":{"datum":20.8e-8},"text":{"value":"0.00000008"}}},
 {"data":{"name":"one"},"mark":{"type":"text","color":"#ffffff","fontSize":25,"align":"left","baseline":"middle","dx":17},"encoding":{"x":{"datum":{"utc":true,"year":2026,"month":5,"date":18,"hours":17,"minutes":44,"seconds":10},"type":"temporal"},"y":{"datum":10.8e-8},"text":{"value":"0.00000007"}}},
 {"data":{"name":"one"},"mark":{"type":"text","color":"#131722","fontSize":25,"align":"left","baseline":"middle","dx":17},"encoding":{"x":{"datum":{"utc":true,"year":2026,"month":5,"date":18,"hours":17,"minutes":44,"seconds":10},"type":"temporal"},"y":{"datum":0.8e-8},"text":{"value":"0.00000001"}}},
 {"data":{"name":"one"},"mark":{"type":"text","color":"#131722","fontSize":23,"align":"left","baseline":"middle","dx":16.5},"encoding":{"x":{"datum":{"utc":true,"year":2025,"month":12,"date":15,"hours":21,"minutes":25,"seconds":45},"type":"temporal"},"y":{"datum":29e-8},"text":{"value":"MACD (12, 26, close)"}}},
 {"data":{"name":"one"},"mark":{"type":"text","color":"#b2dfdb","fontSize":23,"align":"left","baseline":"middle","dx":269},"encoding":{"x":{"datum":{"utc":true,"year":2025,"month":12,"date":15,"hours":21,"minutes":25,"seconds":45},"type":"temporal"},"y":{"datum":29e-8},"text":{"value":"0.00000001"}}},
 {"data":{"name":"one"},"mark":{"type":"text","color":"#2962ff","fontSize":23,"align":"left","baseline":"middle","dx":420.5},"encoding":{"x":{"datum":{"utc":true,"year":2025,"month":12,"date":15,"hours":21,"minutes":25,"seconds":45},"type":"temporal"},"y":{"datum":29e-8},"text":{"value":"0.00000008"}}},
 {"data":{"name":"one"},"mark":{"type":"text","color":"#f23645","fontSize":23,"align":"left","baseline":"middle","dx":575},"encoding":{"x":{"datum":{"utc":true,"year":2025,"month":12,"date":15,"hours":21,"minutes":25,"seconds":45},"type":"temporal"},"y":{"datum":29e-8},"text":{"value":"0.00000007"}}},
 {"data":{"name":"one"},"mark":{"type":"rule","color":"#e0e3eb","strokeWidth":2},"encoding":{"x":{"datum":{"utc":true,"year":2025,"month":12,"date":15,"hours":21,"minutes":25,"seconds":45},"type":"temporal"},"x2":{"datum":{"utc":true,"year":2026,"month":5,"date":28,"hours":15,"minutes":14,"seconds":24}},"y":{"datum":454.6e-8}}},
 {"data":{"name":"one"},"mark":{"type":"rule","color":"#e0e3eb","strokeWidth":3},"encoding":{"x":{"datum":{"utc":true,"year":2025,"month":12,"date":15,"hours":21,"minutes":25,"seconds":45},"type":"temporal"},"x2":{"datum":{"utc":true,"year":2026,"month":5,"date":28,"hours":15,"minutes":14,"seconds":24}},"y":{"datum":38.5e-8}}},
 {"data":{"name":"one"},"mark":{"type":"rule","color":"#e0e3eb","strokeWidth":2},"encoding":{"x":{"datum":{"utc":true,"year":2026,"month":5,"date":18,"hours":16,"minutes":30,"seconds":43},"type":"temporal"},"x2":{"datum":{"utc":true,"year":2026,"month":5,"date":28,"hours":15,"minutes":14,"seconds":24}},"y":{"datum":-61.6e-8}}},
 {"data":{"name":"one"},"mark":{"type":"rule","color":"#e0e3eb","strokeWidth":2},"encoding":{"x":{"datum":{"utc":true,"year":2025,"month":12,"date":15,"hours":21,"minutes":25,"seconds":45},"type":"temporal"},"x2":{"datum":{"utc":true,"year":2026,"month":5,"date":28,"hours":15,"minutes":14,"seconds":24}},"y":{"datum":-77.8e-8}}},
 {"data":{"name":"one"},"mark":{"type":"rule","color":"#e0e3eb","strokeWidth":2},"encoding":{"x":{"datum":{"utc":true,"year":2025,"month":12,"date":15,"hours":21,"minutes":25,"seconds":45},"type":"temporal"},"y":{"datum":-61.6e-8},"y2":{"datum":-77.8e-8}}},
 {"data":{"name":"one"},"mark":{"type":"rule","color":"#e0e3eb","strokeWidth":2},"encoding":{"x":{"datum":{"utc":true,"year":2026,"month":5,"date":18,"hours":16,"minutes":30,"seconds":43},"type":"temporal"},"y":{"datum":-61.6e-8},"y2":{"datum":-77.8e-8}}},
 {"data":{"name":"one"},"mark":{"type":"rule","color":"#e0e3eb","strokeWidth":2},"encoding":{"x":{"datum":{"utc":true,"year":2026,"month":5,"date":28,"hours":15,"minutes":14,"seconds":24},"type":"temporal"},"y":{"datum":454.6e-8},"y2":{"datum":-77.8e-8}}},
 {"data":{"name":"one"},"mark":{"type":"text","color":"#131722","fontSize":46,"fontWeight":900,"align":"left","baseline":"middle","dx":0},"encoding":{"x":{"datum":{"utc":true,"year":2025,"month":12,"date":15,"hours":21,"minutes":25,"seconds":45},"type":"temporal"},"y":{"datum":-95.4e-8},"text":{"value":"17"}}},
 {"data":{"name":"one"},"mark":{"type":"text","color":"#131722","fontSize":41,"fontWeight":"bold","align":"left","baseline":"middle","dx":63},"encoding":{"x":{"datum":{"utc":true,"year":2025,"month":12,"date":15,"hours":21,"minutes":25,"seconds":45},"type":"temporal"},"y":{"datum":-95.4e-8},"text":{"value":"TradingView"}}}
]}
]
}
